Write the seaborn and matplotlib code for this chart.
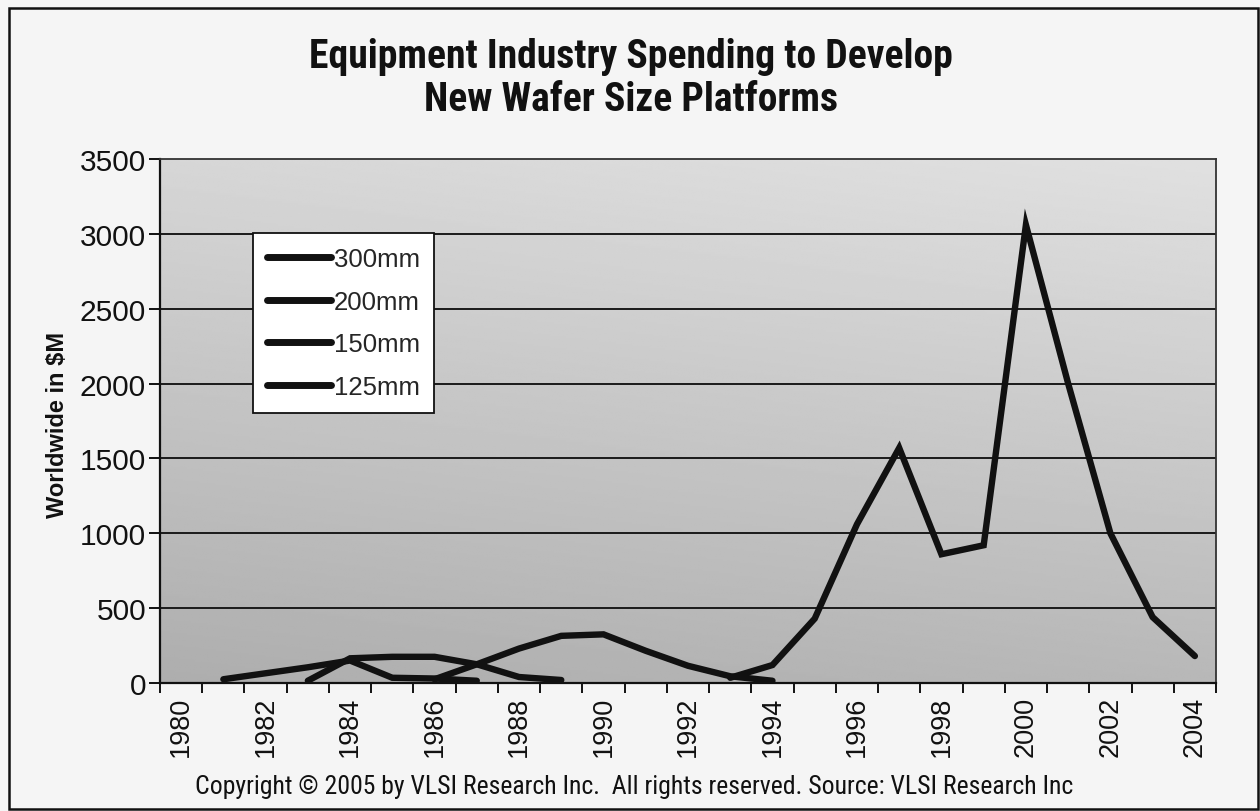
import numpy as np
import pandas as pd
import matplotlib
matplotlib.use("Agg")
import matplotlib.pyplot as plt
from matplotlib import font_manager as fm
from matplotlib.patches import Rectangle
import seaborn as sns

# Spending (US$M) per wafer-size generation, by year
years_300 = [1993, 1994, 1995, 1996, 1997, 1998, 1999, 2000, 2001, 2002, 2003, 2004]
spend_300 = [35, 120, 430, 1060, 1570, 860, 920, 3060, 2000, 1000, 440, 180]

years_200 = [1986, 1987, 1988, 1989, 1990, 1991, 1992, 1993, 1994]
spend_200 = [25, 125, 230, 315, 325, 215, 115, 45, 15]

years_150 = [1983, 1984, 1985, 1986, 1987, 1988, 1989]
spend_150 = [15, 165, 175, 175, 125, 40, 20]

years_125 = [1981, 1982, 1983, 1984, 1985, 1986, 1987]
spend_125 = [25, 65, 105, 150, 35, 30, 15]

series_names = ["300mm", "200mm", "150mm", "125mm"]
all_years = list(range(1980, 2005))
year_labels = [str(y) for y in range(1980, 2005, 2)]
y_ticks = [0, 500, 1000, 1500, 2000, 2500, 3000, 3500]

frames = []
for name, yrs, vals in zip(series_names,
                           [years_300, years_200, years_150, years_125],
                           [spend_300, spend_200, spend_150, spend_125]):
    frames.append(pd.DataFrame({"Year": yrs, "Spend": vals, "Size": name}))
df = pd.concat(frames, ignore_index=True)

sns.set_theme(style="white")
available = {f.name for f in fm.fontManager.ttflist}
narrow = next((f for f in ["Liberation Sans Narrow", "Arial Narrow", "Roboto Condensed"]
               if f in available), "Liberation Sans")
plt.rcParams["font.family"] = ["Liberation Sans", "DejaVu Sans"]

W, H = 1260, 812
fig = plt.figure(figsize=(W / 100, H / 100), dpi=100)
fig.patch.set_facecolor("#f5f5f5")

left, right, top, bottom = 160, 1216, 160, 684
ax = fig.add_axes([left / W, 1 - bottom / H, (right - left) / W, (bottom - top) / H])

# shaded plot area: lighter at the top, darker towards the bottom-left
gy = np.linspace(0, 1, 256)[:, None]
gx = np.linspace(0, 1, 256)[None, :]
shade = 0.68 + 0.16 * gy + 0.04 * gx
ax.imshow(shade, cmap="gray", vmin=0, vmax=1, origin="lower", aspect="auto",
          extent=[0, 1, 0, 1], transform=ax.transAxes, zorder=0)

sns.lineplot(data=df, x="Year", y="Spend", hue="Size", hue_order=series_names,
             palette=["#111111"] * 4, linewidth=4.6, ax=ax, zorder=3,
             solid_joinstyle="miter", solid_capstyle="round", legend=True)

ax.set_xlim(1979.5, 2004.5)
ax.set_ylim(0, 3500)
ax.set_yticks(y_ticks)
ax.set_yticklabels([str(v) for v in y_ticks], fontsize=21.5)
ax.set_xticks(list(range(1980, 2005, 2)))
ax.set_xticklabels(year_labels, rotation=90, fontsize=19.5)
ax.set_xticks([y - 0.5 for y in all_years] + [2004.5], minor=True)
ax.tick_params(axis="x", which="major", length=0, pad=9, colors="#111111")
ax.tick_params(axis="x", which="minor", length=7, width=1.4, direction="out",
               color="#111111", bottom=True)
ax.tick_params(axis="y", which="major", length=8, width=1.4, direction="out",
               left=True, pad=2, colors="#111111")

ax.grid(False)
for v in y_ticks[1:-1]:
    ax.axhline(v, color="#1a1a1a", linewidth=1.4, zorder=1)
for side in ["left", "bottom"]:
    ax.spines[side].set_color("#111111")
    ax.spines[side].set_linewidth(1.6)
for side in ["top", "right"]:
    ax.spines[side].set_color("#333333")
    ax.spines[side].set_linewidth(1.3)
for s in ax.spines.values():
    s.set_zorder(4)

ax.set_xlabel("")
ax.set_ylabel("")
fig.text(57 / W, 1 - 425 / H, "Worldwide in $M", rotation=90, ha="center",
         va="center", fontsize=17, fontweight="bold", color="#111111")

handles, labels = ax.get_legend_handles_labels()
leg = ax.legend(handles, labels, loc="upper left",
                bbox_to_anchor=(253 / W, 1 - 234 / H), bbox_transform=fig.transFigure,
                frameon=True, fancybox=False, fontsize=18.5, handlelength=2.5,
                handletextpad=0.1, labelspacing=0.72, borderpad=0.55,
                borderaxespad=0)
leg.get_frame().set_facecolor("white")
leg.get_frame().set_edgecolor("#111111")
leg.get_frame().set_linewidth(1.3)
leg.get_frame().set_alpha(1)
leg.set_zorder(6)
for line in leg.get_lines():
    line.set_linewidth(5)

fig.text(631 / W, 1 - 57 / H, "Equipment Industry Spending to Develop",
         ha="center", va="center", fontsize=28.5, fontweight="bold",
         family=[narrow, "DejaVu Sans"], color="#111111")
fig.text(631 / W, 1 - 100 / H, "New Wafer Size Platforms",
         ha="center", va="center", fontsize=28.5, fontweight="bold",
         family=[narrow, "DejaVu Sans"], color="#111111")

fig.text(634 / W, 1 - 787 / H,
         "Copyright \u00a9 2005 by VLSI Research Inc.  All rights reserved. Source: VLSI Research Inc",
         ha="center", va="center", fontsize=18.5, family=[narrow, "DejaVu Sans"],
         color="#111111")

fig.patches.append(Rectangle((9 / W, 1 - 810 / H), (1258 - 9) / W, (810 - 9) / H,
                             transform=fig.transFigure, fill=False,
                             edgecolor="#111111", linewidth=1.8))

fig.savefig("out.png", dpi=100, facecolor=fig.get_facecolor())
